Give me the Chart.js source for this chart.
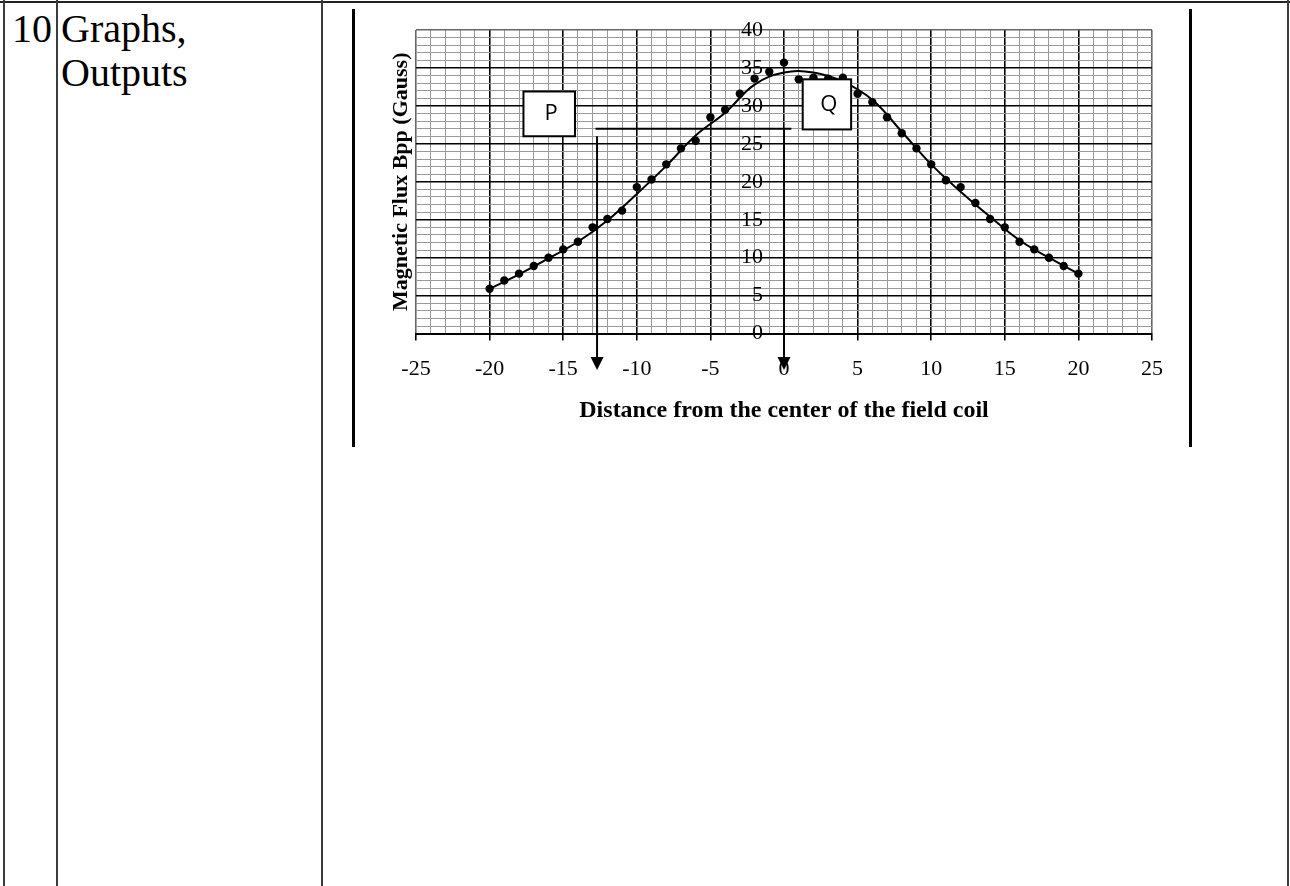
<!DOCTYPE html>
<html>
<head>
<meta charset="utf-8">
<title>Magnetic flux vs distance</title>
<script src="https://cdn.jsdelivr.net/npm/chart.js@4.4.1/dist/chart.umd.min.js"></script>
<style>
  body { margin: 0; background: #fff; width: 1290px; height: 886px; position: relative; overflow: hidden;
         font-family: 'Times New Roman', 'Liberation Serif', serif; }
  .vl { position: absolute; top: 0; height: 886px; width: 2px; background: #3c3c3c; }
  .hl { position: absolute; left: 0; top: 1px; width: 1290px; height: 2px; background: #222; }
  .frame { position: absolute; top: 9px; height: 438px; width: 3px; background: #000; }
  .cell { position: absolute; top: 7px; font-size: 40px; line-height: 44px; color: #000; }
  #wrap { position: absolute; left: 356px; top: 10px; width: 830px; height: 430px; }
</style>
</head>
<body>
<div class="hl"></div>
<div class="vl" style="left:3px"></div>
<div class="vl" style="left:56px"></div>
<div class="vl" style="left:321px"></div>
<div class="vl" style="left:1287px"></div>
<div class="cell" style="left:12px">10</div>
<div class="cell" style="left:61px">Graphs,<br>Outputs</div>
<div class="frame" style="left:352px"></div>
<div class="frame" style="left:1189px"></div>
<div id="wrap"><canvas id="chart1"></canvas></div>

<script>
// measured points: distance from the centre of the coil vs flux (gauss)
var distance = [-20, -19, -18, -17, -16, -15, -14, -13, -12, -11, -10, -9, -8, -7, -6, -5, -4, -3, -2, -1,
  0, 1, 2, 3, 4, 5, 6, 7, 8, 9, 10, 11, 12, 13, 14, 15, 16, 17, 18, 19, 20];
var flux = [5.9, 7.0, 7.9, 8.9, 10.0, 11.1, 12.1, 14.0, 15.1, 16.2, 19.3, 20.3, 22.3, 24.4, 25.4, 28.5, 29.5, 31.6, 33.6, 34.5,
  35.7, 33.5, 33.7, 33.6, 33.7, 31.6, 30.5, 28.5, 26.4, 24.4, 22.3, 20.2, 19.3, 17.2, 15.1, 14.0, 12.1, 11.1, 10.0, 8.9, 7.9];

// the smooth fitted curve
var fitX = [-20, -18, -16, -14, -12, -10, -8, -6, -4, -2, 0, 2, 4, 6, 8, 10, 12, 14, 16, 18, 20];
var fitY = [5.9, 7.8, 9.9, 12.1, 14.9, 18.4, 22.1, 26.1, 29.1, 32.8, 34.4, 34.4, 33.2, 30.8, 26.6, 22.3, 18.7, 15.4, 12.3, 10.0, 7.9];

// labelled ticks
var xLabels = [-25, -20, -15, -10, -5, 0, 5, 10, 15, 20, 25];
var yLabels = [0, 5, 10, 15, 20, 25, 30, 35, 40];

// the P / Q boxes and the guide arrows (data units)
var boxP = { label: 'P', x1: -17.7, x2: -14.2, y1: 26.0, y2: 31.9 };
var boxQ = { label: 'Q', x1: 1.27, x2: 4.56, y1: 26.9, y2: 33.5 };
var guideY = 27.0, guideX1 = -12.8, guideX2 = 0.5;
var arrows = [{ x: -12.7, from: 26.0 }, { x: 0, from: 27.0 }];
var arrowTip = -4.8;

var serif = "'Times New Roman', 'Liberation Serif', serif";

function xGrid(ctx) {
  var v = ctx.tick.value;
  if (v === -25 || v === 25) return '#666';
  return v % 5 === 0 ? '#000' : '#9a9a9a';
}
function yGrid(ctx) {
  var v = ctx.tick.value;
  if (v === 40) return '#666';
  return v % 5 === 0 ? '#000' : '#9a9a9a';
}
function gridWidth(ctx) {
  return ctx.tick.value % 5 === 0 ? 1.6 : 1;
}

var extras = {
  id: 'extras',
  afterDatasetsDraw: function(chart) {
    var c = chart.ctx, xs = chart.scales.x, ys = chart.scales.y;
    c.save();
    c.strokeStyle = '#000';
    c.fillStyle = '#000';
    c.lineWidth = 2;
    c.beginPath();
    c.moveTo(xs.getPixelForValue(guideX1), ys.getPixelForValue(guideY));
    c.lineTo(xs.getPixelForValue(guideX2), ys.getPixelForValue(guideY));
    c.stroke();
    arrows.forEach(function(a) {
      var px = xs.getPixelForValue(a.x);
      var top = ys.getPixelForValue(a.from);
      var tip = ys.getPixelForValue(arrowTip);
      c.beginPath();
      c.moveTo(px, top);
      c.lineTo(px, tip - 8);
      c.stroke();
      c.beginPath();
      c.moveTo(px - 6.5, tip - 13);
      c.lineTo(px + 6.5, tip - 13);
      c.lineTo(px, tip);
      c.closePath();
      c.fill();
    });
    [boxP, boxQ].forEach(function(b) {
      var l = xs.getPixelForValue(b.x1), r = xs.getPixelForValue(b.x2);
      var t = ys.getPixelForValue(b.y2), btm = ys.getPixelForValue(b.y1);
      c.fillStyle = '#fff';
      c.fillRect(l, t, r - l, btm - t);
      c.lineWidth = 2;
      c.strokeRect(l, t, r - l, btm - t);
      c.fillStyle = '#000';
      c.font = '22px "Open Sans", "Liberation Sans", sans-serif';
      c.textAlign = 'center';
      c.textBaseline = 'middle';
      c.fillText(b.label, (l + r) / 2 + 2, (t + btm) / 2);
    });
    c.restore();
  },
  afterDraw: function(chart) {
    var c = chart.ctx, a = chart.chartArea;
    c.save();
    c.fillStyle = '#000';
    c.textAlign = 'center';
    c.textBaseline = 'middle';
    c.font = 'bold 24px ' + serif;
    c.fillText('Distance from the center of the field coil', (a.left + a.right) / 2, a.bottom + 77);
    c.translate(a.left - 15, (a.top + a.bottom) / 2);
    c.rotate(-Math.PI / 2);
    c.font = 'bold 22px ' + serif;
    c.fillText('Magnetic Flux Bpp (Gauss)', 0, 0);
    c.restore();
  }
};

var chart1 = document.getElementById('chart1').getContext('2d');
var fluxChart = new Chart(chart1, {
  type: 'scatter',
  data: {
    datasets: [
      {
        label: 'Measured',
        data: distance.map(function(x, i) { return { x: x, y: flux[i] }; }),
        backgroundColor: '#000',
        borderWidth: 0,
        pointRadius: 4.2
      },
      {
        type: 'line',
        label: 'Fit',
        data: fitX.map(function(x, i) { return { x: x, y: fitY[i] }; }),
        borderColor: '#000',
        borderWidth: 2,
        pointRadius: 0,
        fill: false,
        tension: 0.4
      }
    ]
  },
  options: {
    responsive: true,
    maintainAspectRatio: false,
    animation: false,
    layout: { padding: { left: 60, right: 34, top: 20, bottom: 43 } },
    plugins: { legend: { display: false }, tooltip: { enabled: false } },
    scales: {
      x: {
        type: 'linear',
        min: -25,
        max: 25,
        grid: { color: xGrid, lineWidth: gridWidth, tickLength: 7,
                tickColor: function(ctx) { return ctx.tick.value % 5 === 0 ? '#000' : 'rgba(0,0,0,0)'; },
                tickWidth: 1.6 },
        border: { color: '#000', width: 2 },
        ticks: {
          stepSize: 1,
          autoSkip: false,
          maxRotation: 0,
          padding: 15,
          color: '#000',
          font: { family: serif, size: 22 },
          callback: function(v) { return xLabels.indexOf(v) > -1 ? String(v) : ''; }
        }
      },
      y: {
        type: 'linear',
        position: { x: -1.43 },
        min: 0,
        max: 40,
        grid: { color: yGrid, lineWidth: gridWidth, drawTicks: false },
        border: { display: false },
        ticks: {
          stepSize: 1,
          autoSkip: false,
          color: '#000',
          font: { family: serif, size: 22 },
          callback: function(v) { return yLabels.indexOf(v) > -1 ? String(v) : ''; }
        }
      }
    }
  },
  plugins: [extras]
});
</script>
</body>
</html>
